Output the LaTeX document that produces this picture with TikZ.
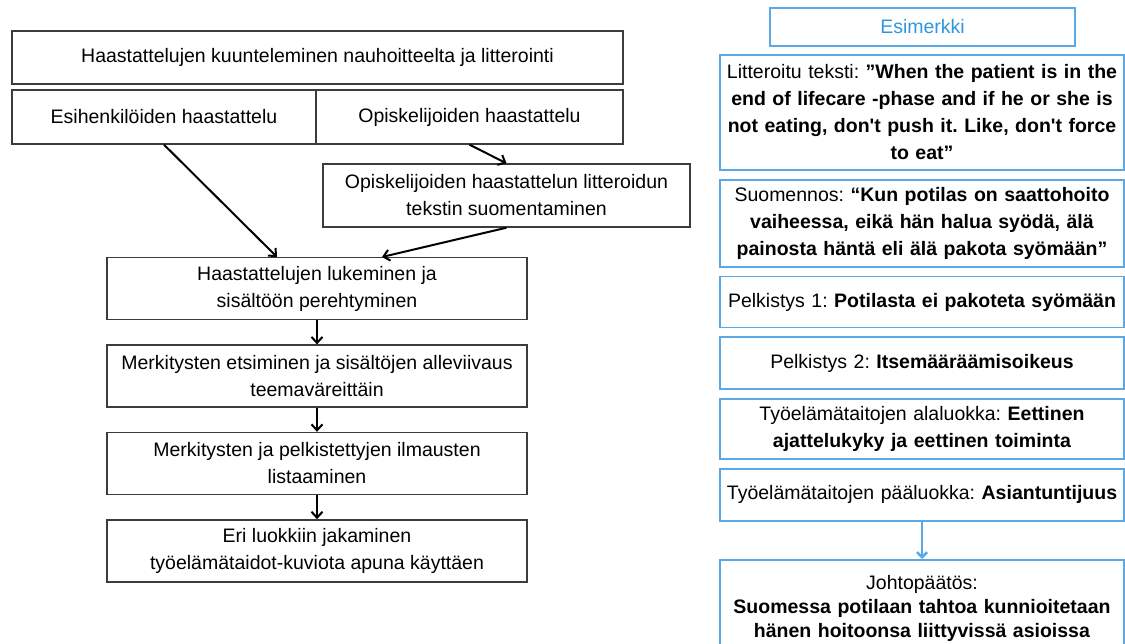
\documentclass[tikz,border=0pt]{standalone}
\usepackage{fontspec}
\setmainfont{Liberation Sans}
\newfontfamily\plainquote{Liberation Sans}
\usetikzlibrary{arrows.meta, positioning}
\definecolor{frameGray}{HTML}{3C3C3C}
\definecolor{exBlue}{HTML}{5AA9E6}
\definecolor{exText}{HTML}{2F97DD}
\newcommand{\apos}{{\plainquote\bfseries '}}
\frenchspacing

\begin{document}
\begin{tikzpicture}[
    x=1pt, y=-1pt,
    font=\fontsize{19.5}{27}\selectfont,
    stepbox/.style={rectangle, draw=frameGray, line width=1.4pt, fill=white,
                 align=center, inner sep=0pt},
    flowbox/.style={stepbox, minimum width=420pt, minimum height=62pt},
    examplebox/.style={rectangle, draw=exBlue, line width=1.8pt, fill=white,
                 align=center, text width=396pt, inner xsep=4pt, inner ysep=0pt},
    flowarrow/.style={-{Straight Barb[length=6pt,width=11pt]}, line width=2pt},
  ]
    \clip (0,0) rectangle (1125,644);
    \fill[white] (0,0) rectangle (1125,644);

    % left column: work phases
    \node[stepbox, minimum width=611pt, minimum height=53pt] (listen) at (317.5,57.5)
      {Haastattelujen kuunteleminen nauhoitteelta ja litterointi};
    \node[stepbox, minimum width=304pt, minimum height=54pt] (boss) at (164,117)
      {Esihenkilöiden haastattelu};
    \node[stepbox, minimum width=307pt, minimum height=54pt] (student) at (469.5,117)
      {Opiskelijoiden haastattelu};
    \node[stepbox, minimum width=367pt, minimum height=63pt] (transl) at (506.5,195.5)
      {Opiskelijoiden haastattelun litteroidun\\ tekstin suomentaminen};

    \node[flowbox, anchor=north] (read) at (317,257)
      {Haastattelujen lukeminen ja\\ sisältöön perehtyminen};
    \node[flowbox, below=24pt of read] (mark)
      {Merkitysten etsiminen ja sisältöjen alleviivaus\\ teemaväreittäin};
    \node[flowbox, below=24pt of mark] (list)
      {Merkitysten ja pelkistettyjen ilmausten\\ listaaminen};
    \node[flowbox, below=24pt of list] (sort)
      {Eri luokkiin jakaminen\\ työelämätaidot-kuviota apuna käyttäen};

    \draw[flowarrow] (boss.south) -- ([xshift=-40pt]read.north);
    \draw[flowarrow] (student.south) -- (transl.north);
    \draw[flowarrow] (transl.south) -- ([xshift=65pt]read.north);
    \foreach \a/\b in {read/mark, mark/list, list/sort}{
      \draw[flowarrow] (\a.south) -- (\b.north);
    }

    % right column: example
    \node[examplebox, text width=297pt, minimum height=38pt, text=exText] (ex) at (922.5,27)
      {Esimerkki};
    \node[examplebox, anchor=north, minimum height=115pt] (lit) at (922,54)
      {Litteroitu teksti: \textbf{”When the patient is in the}\\
       \textbf{end of lifecare -phase and if he or she is}\\
       \textbf{not eating, don\apos t push it. Like, don\apos t force}\\
       \textbf{to eat”}};
    \node[examplebox, below=8pt of lit, minimum height=87pt] (fin)
      {Suomennos: \textbf{“Kun potilas on saattohoito}\\
       \textbf{vaiheessa, eikä hän halua syödä, älä}\\
       \textbf{painosta häntä eli älä pakota syömään”}};
    \node[examplebox, below=8pt of fin, minimum height=51pt] (red1)
      {Pelkistys 1: \textbf{Potilasta ei pakoteta syömään}};
    \node[examplebox, below=8pt of red1, minimum height=52pt] (red2)
      {Pelkistys 2: \textbf{Itsemääräämisoikeus}};
    \node[examplebox, below=8pt of red2, minimum height=60pt] (sub)
      {Työelämätaitojen alaluokka: \textbf{Eettinen}\\
       \textbf{ajattelukyky ja eettinen toiminta}};
    \node[examplebox, below=8pt of sub, minimum height=52pt] (main)
      {Työelämätaitojen pääluokka: \textbf{Asiantuntijuus}};
    \node[examplebox, anchor=north, inner ysep=15pt,
          font=\fontsize{19.5}{24}\selectfont] (concl) at (922,559)
      {Johtopäätös:\\
       \textbf{Suomessa potilaan tahtoa kunnioitetaan}\\
       \textbf{hänen hoitoonsa liittyvissä asioissa}};

    \draw[-{Straight Barb[length=5pt,width=10pt]}, line width=2.6pt, draw=exBlue]
      (main.south) -- (concl.north);
  \end{tikzpicture}
\end{document}
